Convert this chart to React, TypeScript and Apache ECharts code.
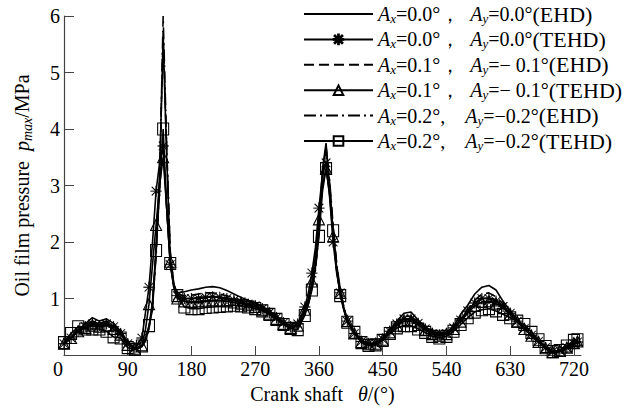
import React, { useEffect, useRef } from "react";
import * as echarts from "echarts";

const theta = [0,10,20,30,40,50,60,70,80,90,100,110,115,120,125,130,135,140,145,150,155,160,170,180,190,200,210,220,230,240,250,260,270,280,290,300,310,320,330,340,345,350,355,360,365,370,375,380,385,390,395,400,410,420,430,440,450,460,470,480,490,500,510,520,530,540,550,560,570,580,590,600,610,620,630,640,650,660,670,680,690,700,710,720,725];

const ehd00 = [0.22,0.32,0.45,0.55,0.66,0.6,0.64,0.56,0.42,0.22,0.12,0.15,0.25,0.5,0.95,1.9,3.2,5.6,3.5,1.75,1.25,1.1,1.12,1.15,1.17,1.2,1.21,1.19,1.14,1.08,1.02,0.97,0.92,0.86,0.78,0.68,0.58,0.5,0.52,0.75,0.95,1.2,1.6,2.3,3.3,3.75,3.0,2.2,1.55,1.15,0.85,0.62,0.4,0.25,0.2,0.22,0.3,0.45,0.6,0.74,0.76,0.62,0.5,0.42,0.38,0.4,0.5,0.72,0.88,1.08,1.2,1.23,1.15,0.95,0.78,0.62,0.48,0.36,0.24,0.12,0.04,0.06,0.12,0.2,0.24];
const tehd00 = [0.2,0.3,0.42,0.5,0.55,0.52,0.55,0.5,0.38,0.2,0.12,0.3,0.75,1.2,2.0,2.9,3.4,3.7,2.6,1.6,1.2,1.05,1.0,1.0,1.0,1.02,1.03,1.02,1.0,0.97,0.94,0.9,0.87,0.82,0.75,0.66,0.57,0.5,0.55,0.85,1.1,1.45,1.9,2.6,3.2,3.4,2.8,2.0,1.45,1.1,0.82,0.6,0.38,0.24,0.2,0.2,0.28,0.42,0.55,0.64,0.64,0.56,0.46,0.38,0.35,0.38,0.48,0.62,0.78,0.92,1.0,1.0,0.95,0.86,0.74,0.6,0.47,0.35,0.24,0.13,0.06,0.08,0.13,0.2,0.23];
const ehd01 = [0.2,0.3,0.44,0.52,0.6,0.56,0.6,0.52,0.4,0.2,0.12,0.15,0.25,0.48,0.9,1.8,3.1,5.7,3.6,1.8,1.25,1.08,1.05,1.06,1.08,1.1,1.1,1.08,1.05,1.0,0.96,0.92,0.88,0.83,0.76,0.66,0.56,0.49,0.52,0.74,0.93,1.18,1.55,2.2,3.2,3.7,3.05,2.25,1.6,1.15,0.85,0.62,0.4,0.25,0.2,0.21,0.29,0.43,0.57,0.68,0.69,0.58,0.47,0.4,0.36,0.38,0.47,0.62,0.8,0.97,1.08,1.1,1.03,0.9,0.75,0.6,0.47,0.35,0.23,0.12,0.04,0.06,0.12,0.2,0.24];
const tehd01 = [0.2,0.3,0.42,0.48,0.52,0.5,0.52,0.46,0.36,0.18,0.11,0.17,0.45,0.9,1.6,2.3,3.0,3.5,2.6,1.65,1.2,1.0,0.95,0.94,0.95,0.96,0.97,0.96,0.95,0.93,0.91,0.88,0.85,0.8,0.73,0.64,0.55,0.48,0.52,0.8,1.0,1.3,1.75,2.4,3.0,3.3,2.85,2.1,1.5,1.1,0.82,0.6,0.38,0.23,0.19,0.2,0.27,0.4,0.52,0.6,0.6,0.53,0.44,0.37,0.34,0.37,0.46,0.59,0.74,0.87,0.94,0.95,0.91,0.83,0.72,0.59,0.46,0.34,0.23,0.12,0.05,0.07,0.13,0.21,0.24];
const ehd02 = [0.2,0.3,0.43,0.5,0.56,0.53,0.56,0.5,0.38,0.19,0.11,0.15,0.24,0.46,0.88,1.75,3.0,6.0,3.7,1.85,1.25,1.05,1.0,1.0,1.02,1.03,1.04,1.03,1.0,0.97,0.94,0.9,0.86,0.81,0.74,0.65,0.55,0.48,0.5,0.72,0.9,1.15,1.5,2.15,3.1,3.65,3.1,2.3,1.62,1.17,0.86,0.62,0.4,0.25,0.2,0.2,0.28,0.42,0.55,0.64,0.64,0.56,0.45,0.38,0.35,0.37,0.46,0.6,0.76,0.91,1.0,1.01,0.96,0.86,0.74,0.6,0.46,0.34,0.22,0.11,0.04,0.06,0.12,0.2,0.24];
const tehd02 = [0.22,0.38,0.5,0.46,0.46,0.46,0.42,0.32,0.3,0.13,0.1,0.16,0.3,0.52,0.8,1.85,2.9,4.0,2.6,1.62,1.25,1.05,0.85,0.82,0.82,0.84,0.85,0.86,0.87,0.88,0.87,0.85,0.82,0.78,0.72,0.63,0.54,0.47,0.45,0.7,0.9,1.15,1.55,2.1,2.9,3.3,2.9,2.2,1.5,1.05,0.8,0.58,0.4,0.22,0.17,0.18,0.26,0.38,0.48,0.52,0.52,0.46,0.4,0.33,0.3,0.33,0.42,0.54,0.66,0.76,0.8,0.82,0.78,0.72,0.66,0.6,0.54,0.4,0.27,0.15,0.06,0.08,0.16,0.26,0.27];

const xTicks = [0, 90, 180, 270, 360, 450, 540, 630, 720];
const yTicks = [1, 2, 3, 4, 5, 6];

// [Ax value + separator, Ay value, model]
const legendLabels = [
  ["0.0°，", "0.0°", "(EHD)"],
  ["0.0°，", "0.0°", "(TEHD)"],
  ["0.1°，", "− 0.1°", "(EHD)"],
  ["0.1°，", "− 0.1°", "(TEHD)"],
  ["0.2°,  ", "−0.2°", "(EHD)"],
  ["0.2°,  ", "−0.2°", "(TEHD)"],
];

const ASTERISK =
  "path://M9.2 0H10.8V20H9.2Z M0 9.2H20V10.8H0Z M1.7 2.8L2.8 1.7L18.3 17.2L17.2 18.3Z M17.2 1.7L18.3 2.8L2.8 18.3L1.7 17.2Z";

const FONT = "'Liberation Serif', 'Times New Roman', serif";

export default function App() {
  const ref = useRef<HTMLDivElement>(null);
  useEffect(() => {
    if (!ref.current) return;
    const chart = echarts.init(ref.current, null, { renderer: "svg" });
    const names = ["s1", "s2", "s3", "s4", "s5", "s6"];
    const values = [ehd00, tehd00, ehd01, tehd01, ehd02, tehd02];
    const styles: any[] = [
      { type: "solid", symbol: "none" },
      { type: "solid", symbol: ASTERISK, size: 11 },
      { type: [10, 5], symbol: "none" },
      { type: "solid", symbol: "triangle", size: 11 },
      { type: [12, 4, 2, 4], symbol: "none" },
      { type: "solid", symbol: "rect", size: [11, 12] },
    ];
    const clear = "rgba(0,0,0,0)";
    const series = values.map((vals, k) => {
      const st = styles[k];
      const marker = st.symbol !== "none";
      return {
        name: names[k],
        type: "line",
        data: theta.map((t, i) =>
          marker && !(t % 10 === 0 || t === 725)
            ? { value: [t, vals[i]], symbol: "none" }
            : { value: [t, vals[i]] }
        ),
        symbol: marker ? st.symbol : "circle",
        symbolSize: st.size || 1,
        showSymbol: marker,
        showAllSymbol: true,
        lineStyle: { color: "#000", width: 1.6, type: st.type },
        itemStyle: marker
          ? {
              color: st.symbol === ASTERISK ? "#000" : "rgba(255,255,255,0)",
              borderColor: "#000",
              borderWidth: st.symbol === ASTERISK ? 0.2 : 1.1,
            }
          : { color: clear, borderColor: clear, borderWidth: 0 },
        emphasis: { disabled: true },
        z: marker ? 3 : 2,
      };
    });
    const richBase = {
      i: { fontFamily: FONT, fontStyle: "italic", fontSize: 20, lineHeight: 22, color: "#000" },
      sub: { fontFamily: FONT, fontStyle: "italic", fontSize: 13, lineHeight: 8, verticalAlign: "bottom", color: "#000" },
      n: { fontFamily: FONT, fontSize: 20, lineHeight: 22, color: "#000" },
      m: { fontFamily: FONT, fontSize: 22, lineHeight: 22, color: "#000" },
    };
    chart.setOption({
      animation: false,
      backgroundColor: "#fff",
      grid: { left: 64, right: 63, top: 16, bottom: 57 },
      legend: {
        orient: "vertical",
        left: 303,
        top: 3,
        padding: 0,
        itemWidth: 69,
        itemHeight: 12,
        itemGap: 3.4,
        data: names,
        formatter: (name: string) => {
          const idx = names.indexOf(name);
          const [a, b, c] = legendLabels[idx];
          return `{i|A}{sub|x}{n|=${a}  }{i|A}{sub|y}{n|=${b}}{m|${c}}`;
        },
        textStyle: { rich: richBase, fontFamily: FONT, fontSize: 20, color: "#000" },
      },
      xAxis: {
        type: "value",
        min: 0,
        max: 730,
        interval: 90,
        name: "{n|Crank shaft   }{i|θ}{n|/(°)}",
        nameLocation: "middle",
        nameGap: 28,
        nameTextStyle: { rich: { i: { ...richBase.i }, n: { ...richBase.n } } },
        axisLine: { lineStyle: { color: "#444", width: 1.2 } },
        axisTick: { inside: true, length: 9, customValues: xTicks, lineStyle: { color: "#444", width: 1 } },
        axisLabel: {
          customValues: xTicks,
          margin: 4,
          fontFamily: FONT,
          fontSize: 20,
          color: "#000",
          formatter: (v: number) => (v === 0 ? "{z|0}" : String(v)),
          rich: { z: { fontFamily: FONT, fontSize: 20, color: "#000", padding: [0, 12, 0, 0] } },
        },
        splitLine: { show: false },
      },
      yAxis: {
        type: "value",
        min: 0,
        max: 6,
        interval: 1,
        name: "{n|Oil film pressure  }{i|p}{sub|max}{n|/MPa}",
        nameLocation: "middle",
        nameGap: 30,
        nameTextStyle: {
          rich: {
            i: { ...richBase.i, lineHeight: 24 },
            sub: { ...richBase.sub, fontSize: 14, lineHeight: 10 },
            n: { ...richBase.n, lineHeight: 24 },
          },
        },
        axisLine: { show: true, lineStyle: { color: "#444", width: 1.2 } },
        axisTick: { show: true, inside: true, length: 10, customValues: yTicks, lineStyle: { color: "#444", width: 1 } },
        axisLabel: { customValues: yTicks, margin: 4, fontFamily: FONT, fontSize: 20, color: "#000" },
        splitLine: { show: false },
      },
      series,
    });
    return () => chart.dispose();
  }, []);
  return (
    <div
      ref={ref}
      style={{ position: "fixed", left: 0, top: 0, width: 644, height: 412, background: "#fff" }}
    />
  );
}
